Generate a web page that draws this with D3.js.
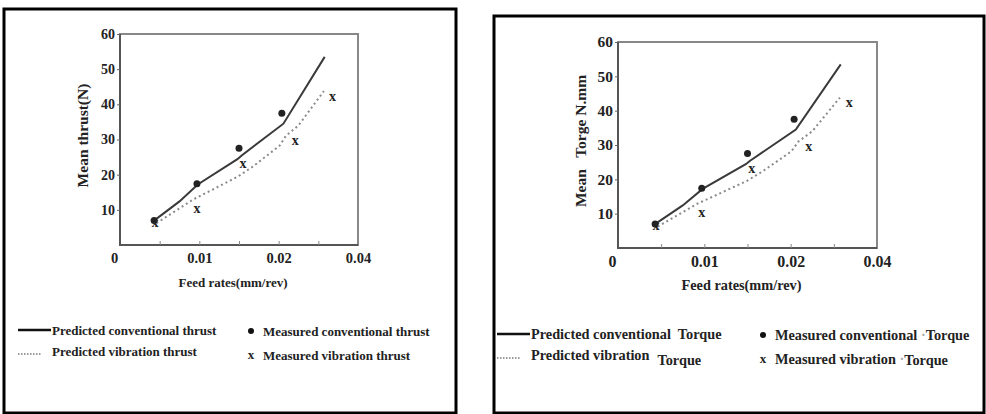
<!DOCTYPE html>
<html>
<head>
<meta charset="UTF-8">
<script src="https://d3js.org/d3.v7.min.js"></script>
<style>
  body { margin: 0; background: #fff; }
  text { font-family: "Liberation Serif", "DejaVu Serif", serif; font-weight: bold; fill: #222; white-space: pre; }
</style>
</head>
<body>
<div id="my_dataviz"></div>
<script>
// feed rate (mm/rev) vs mean value
var predConvX = [0.0045, 0.0075, 0.0098, 0.0148, 0.0153, 0.0206, 0.0258];
var predConvY = [7.3, 12.4, 17.2, 24.4, 25.4, 34.5, 53.5];
var predVibX  = [0.0046, 0.0092, 0.0149, 0.0168, 0.0201, 0.0209, 0.0225, 0.0257];
var predVibY  = [6.2, 12.9, 19.5, 22.4, 28.2, 31.0, 34.0, 43.8];
var measConvX = [0.0043, 0.0097, 0.0150, 0.0204];
var measConvY = [7.0, 17.4, 27.5, 37.5];
var measVibX  = [0.0044, 0.0097, 0.0155, 0.0221, 0.0268];
var measVibY  = [6.3, 10.2, 22.9, 29.5, 42.2];

var yTicks = [10, 20, 30, 40, 50, 60];
var xTickVals = [0, 0.01, 0.02, 0.03];
var xTickLabels = ["0", "0.01", "0.02", "0.04"];
var xMinorTicks = [0.005, 0.01, 0.015, 0.02, 0.025];

var panels = [
  { box: [4, 9, 452, 404], plot: [120, 34, 358, 245], fs: 1,
    yLabel: "Mean thrust(N)", yLabelX: 88,
    leg1: "Predicted conventional thrust", leg2: "Predicted vibration thrust",
    leg3: "Measured conventional thrust", leg4: "Measured vibration thrust",
    legL: 18, legR: 251, legY: 330 },
  { box: [494, 16, 490, 397], plot: [618, 42, 877, 248], fs: 1.1,
    yLabel: "Mean   Torge N.mm", yLabelX: 586,
    leg1: "Predicted conventional  Torque", leg2: "Predicted vibration",
    leg3: "Measured conventional ", leg4: "Measured vibration ",
    legL: 497, legR: 763, legY: 334, torque: true }
];

var svg = d3.select("#my_dataviz").append("svg")
  .attr("width", 986).attr("height", 414);

function pts(xs, ys) { return xs.map(function(d, i) { return [d, ys[i]]; }); }

panels.forEach(function(p) {
  var g = svg.append("g");
  var f = function(s) { return (s * p.fs) + "px"; };
  g.append("rect")
    .attr("x", p.box[0]).attr("y", p.box[1])
    .attr("width", p.box[2]).attr("height", p.box[3])
    .attr("fill", "none").attr("stroke", "#000").attr("stroke-width", 3);

  var x = d3.scaleLinear().domain([0, 0.03]).range([p.plot[0], p.plot[2]]);
  var y = d3.scaleLinear().domain([0, 60]).range([p.plot[3], p.plot[1]]);

  // frame: top/right lighter, left/bottom darker
  g.append("rect")
    .attr("x", p.plot[0]).attr("y", p.plot[1])
    .attr("width", p.plot[2] - p.plot[0]).attr("height", p.plot[3] - p.plot[1])
    .attr("fill", "none").attr("stroke", "#888").attr("stroke-width", 2);
  g.append("path")
    .attr("d", "M" + p.plot[0] + "," + p.plot[1] + "V" + p.plot[3] + "H" + p.plot[2])
    .attr("fill", "none").attr("stroke", "#555").attr("stroke-width", 2);

  // y axis
  var ya = g.append("g")
    .attr("transform", "translate(" + p.plot[0] + ",0)")
    .call(d3.axisLeft(y).tickValues(yTicks).tickSize(3).tickPadding(2));
  ya.select(".domain").remove();
  ya.selectAll("line").attr("stroke", "#666");
  ya.selectAll("text").style("font-size", f(14)).style("font-family", null).attr("fill", "#222");

  // x minor ticks (inside)
  var xa = g.append("g")
    .attr("transform", "translate(0," + p.plot[3] + ")")
    .call(d3.axisTop(x).tickValues(xMinorTicks).tickSize(4).tickFormat(""));
  xa.select(".domain").remove();
  xa.selectAll("line").attr("stroke", "#888");

  // x tick labels
  var xl = g.append("g")
    .attr("transform", "translate(0," + p.plot[3] + ")")
    .call(d3.axisBottom(x).tickValues(xTickVals).tickSize(0).tickPadding(8)
      .tickFormat(function(d, i) { return xTickLabels[i]; }));
  xl.select(".domain").remove();
  xl.selectAll("text").style("font-size", f(14.5)).style("font-family", null).attr("fill", "#222")
    .attr("dx", function(d, i) { return i === 0 ? -6 : 0; });

  // axis titles
  g.append("text")
    .attr("transform", "translate(" + p.yLabelX + "," + ((p.plot[1] + p.plot[3]) / 2 - 4) + ")rotate(-90)")
    .attr("text-anchor", "middle")
    .style("font-size", "15.5px").text(p.yLabel);
  g.append("text")
    .attr("x", (p.plot[0] + p.plot[2]) / 2 - 6).attr("y", p.plot[3] + 42)
    .attr("text-anchor", "middle").style("font-size", f(13))
    .text("Feed rates(mm/rev)");

  var line = d3.line().x(function(d) { return x(d[0]); }).y(function(d) { return y(d[1]); });

  g.append("path").datum(pts(predVibX, predVibY)).attr("d", line)
    .attr("fill", "none").attr("stroke", "#8a8a8a").attr("stroke-width", 2)
    .attr("stroke-dasharray", "2,3");
  g.append("path").datum(pts(predConvX, predConvY)).attr("d", line)
    .attr("fill", "none").attr("stroke", "#3a3a3a").attr("stroke-width", 2);

  g.selectAll(".dot").data(pts(measConvX, measConvY)).enter().append("circle")
    .attr("cx", function(d) { return x(d[0]); }).attr("cy", function(d) { return y(d[1]); })
    .attr("r", 3.5).attr("fill", "#222");
  g.selectAll(".xm").data(pts(measVibX, measVibY)).enter().append("text")
    .attr("x", function(d) { return x(d[0]); }).attr("y", function(d) { return y(d[1]) + 4; })
    .attr("text-anchor", "middle").style("font-size", "14px").text("x");

  // legend
  var ly = p.legY;
  g.append("line").attr("x1", p.legL).attr("x2", p.legL + 33).attr("y1", ly).attr("y2", ly)
    .attr("stroke", "#111").attr("stroke-width", 2.5);
  g.append("line").attr("x1", p.legL).attr("x2", p.legL + 24).attr("y1", ly + 24).attr("y2", ly + 24)
    .attr("stroke", "#777").attr("stroke-width", 1.5).attr("stroke-dasharray", "1.5,1.5");
  g.append("text").attr("x", p.legL + 34).attr("y", ly + 5).style("font-size", f(13)).text(p.leg1);
  var t2 = g.append("text").attr("x", p.legL + 34).attr("y", ly + 26).style("font-size", f(13)).text(p.leg2);
  if (p.torque) t2.append("tspan").attr("dx", 8).attr("dy", 5).text("Torque");

  g.append("circle").attr("cx", p.legR).attr("cy", ly + 1).attr("r", 3).attr("fill", "#111");
  g.append("text").attr("x", p.legR).attr("y", ly + 29).attr("text-anchor", "middle")
    .style("font-size", "13px").text("x");
  var t3 = g.append("text").attr("x", p.legR + 12).attr("y", ly + 6).style("font-size", f(13)).text(p.leg3);
  var t4 = g.append("text").attr("x", p.legR + 12).attr("y", ly + 30).style("font-size", f(13)).text(p.leg4);
  if (p.torque) {
    t3.append("tspan").attr("fill", "#aaa").text("·");
    t3.append("tspan").text("Torque");
    t4.append("tspan").attr("fill", "#aaa").text("·");
    t4.append("tspan").attr("dy", 1).text("Torque");
  }
});
</script>
</body>
</html>
